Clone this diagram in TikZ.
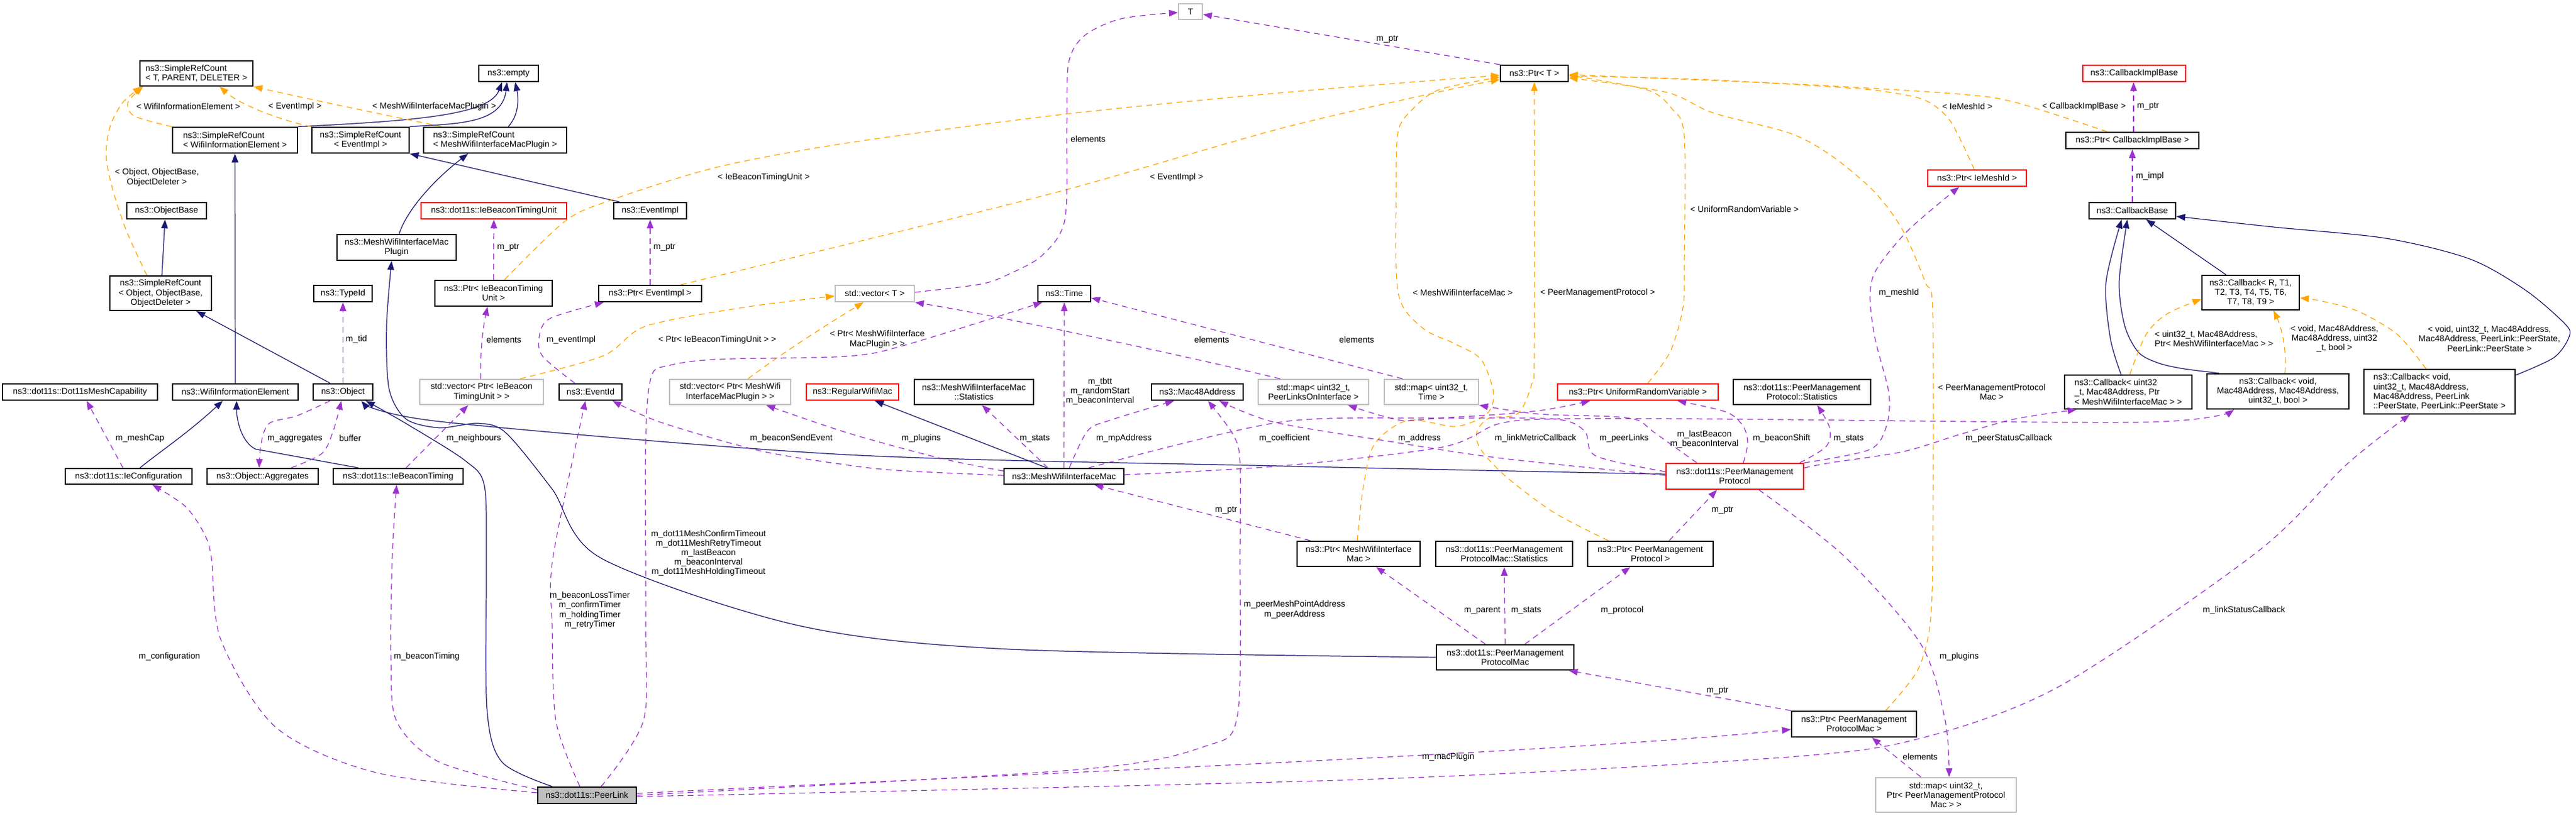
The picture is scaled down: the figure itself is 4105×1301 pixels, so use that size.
\documentclass[tikz,border=0pt]{standalone}
\usepackage{fontspec}
\setmainfont{Liberation Sans}
\usetikzlibrary{arrows.meta}
\definecolor{inhblue}{HTML}{191970}
\definecolor{usepurple}{HTML}{9A32CD}
\definecolor{tmplorange}{HTML}{FFA500}
\definecolor{truncred}{HTML}{FF0000}
\definecolor{undocgrey}{HTML}{BFBFBF}

\begin{document}
\begin{tikzpicture}[x=0.01cm,y=-0.01cm,>={Triangle[length=4pt,width=3pt]},
  cls/.style={draw=black,line width=0.6pt,fill=white,inner sep=0pt,align=center,font=\fontsize{3.9}{4.3}\selectfont},
  undoc/.style={cls,draw=undocgrey},
  trunc/.style={cls,draw=truncred},
  lbl/.style={inner sep=0pt,align=center,font=\fontsize{3.9}{4.3}\selectfont},
  inh/.style={->,draw=inhblue,line width=0.35pt},
  use/.style={->,draw=usepurple,line width=0.35pt,dash pattern=on 2.6pt off 2pt},
  tmpl/.style={->,draw=tmplorange,line width=0.35pt,dash pattern=on 2.6pt off 2pt}]
\useasboundingbox (0,0) rectangle (4105,1301);

% classes
\node[cls,align=left,minimum width=1.80cm,minimum height=0.40cm] (srcTPD) at (313,117) {ns3::SimpleRefCount\\< T, PARENT, DELETER >};
\node[cls,align=left,minimum width=1.99cm,minimum height=0.41cm] (srcWIE) at (374.5,223.5) {ns3::SimpleRefCount\\< WifiInformationElement >};
\node[cls,minimum width=1.55cm,minimum height=0.41cm] (srcEI) at (574.5,223.5) {ns3::SimpleRefCount\\< EventImpl >};
\node[cls,align=left,minimum width=2.28cm,minimum height=0.41cm] (srcMP) at (789,223.5) {ns3::SimpleRefCount\\< MeshWifiInterfaceMacPlugin >};
\node[cls,minimum width=0.95cm,minimum height=0.26cm] (empty) at (810.5,117) {ns3::empty};
\node[cls,minimum width=1.27cm,minimum height=0.26cm] (objBase) at (265.5,336) {ns3::ObjectBase};
\node[cls,minimum width=1.62cm,minimum height=0.55cm] (srcObj) at (256,467.5) {ns3::SimpleRefCount\\< Object, ObjectBase,\\ObjectDeleter >};
\node[cls,minimum width=0.93cm,minimum height=0.26cm] (typeId) at (546.5,468) {ns3::TypeId};
\node[cls,minimum width=2.47cm,minimum height=0.26cm] (meshCap) at (127.5,625) {ns3::dot11s::Dot11sMeshCapability};
\node[cls,minimum width=2.00cm,minimum height=0.26cm] (wie) at (375,625) {ns3::WifiInformationElement};
\node[cls,minimum width=0.95cm,minimum height=0.26cm] (object) at (546.5,625) {ns3::Object};
\node[cls,minimum width=2.02cm,minimum height=0.25cm] (ieConf) at (205,759.5) {ns3::dot11s::IeConfiguration};
\node[cls,minimum width=1.77cm,minimum height=0.25cm] (aggr) at (418.5,759.5) {ns3::Object::Aggregates};
\node[cls,minimum width=2.07cm,minimum height=0.25cm] (ieBT) at (634.5,759.5) {ns3::dot11s::IeBeaconTiming};
\node[cls,minimum width=1.90cm,minimum height=0.41cm] (mwimPlugin) at (632,394.5) {ns3::MeshWifiInterfaceMac\\Plugin};
\node[trunc,minimum width=2.32cm,minimum height=0.26cm] (btUnit) at (787,336) {ns3::dot11s::IeBeaconTimingUnit};
\node[cls,minimum width=1.16cm,minimum height=0.26cm] (eventImpl) at (1036,336) {ns3::EventImpl};
\node[cls,minimum width=1.87cm,minimum height=0.41cm] (ptrBTU) at (786.5,467.5) {ns3::Ptr< IeBeaconTiming\\Unit >};
\node[cls,minimum width=1.64cm,minimum height=0.26cm] (ptrEI) at (1036,468) {ns3::Ptr< EventImpl >};
\node[undoc,minimum width=1.97cm,minimum height=0.40cm] (vecBTU) at (767.5,625) {std::vector< Ptr< IeBeacon\\TimingUnit > >};
\node[cls,minimum width=1.00cm,minimum height=0.26cm] (eventId) at (941,625) {ns3::EventId};
\node[undoc,minimum width=1.93cm,minimum height=0.40cm] (vecMP) at (1163.5,625) {std::vector< Ptr< MeshWifi\\InterfaceMacPlugin > >};
\node[trunc,minimum width=1.47cm,minimum height=0.26cm] (regMac) at (1358.5,625) {ns3::RegularWifiMac};
\node[undoc,minimum width=1.26cm,minimum height=0.26cm] (vecT) at (1394,468) {std::vector< T >};
\node[undoc,minimum width=0.38cm,minimum height=0.25cm] (tT) at (1897,18.5) {T};
\node[cls,minimum width=0.84cm,minimum height=0.26cm] (time) at (1696,468) {ns3::Time};
\node[cls,minimum width=1.90cm,minimum height=0.40cm] (mwimStats) at (1552,625) {ns3::MeshWifiInterfaceMac\\::Statistics};
\node[cls,minimum width=1.46cm,minimum height=0.26cm] (mac48) at (1908,625) {ns3::Mac48Address};
\node[undoc,minimum width=1.76cm,minimum height=0.40cm] (mapPL) at (2093,625) {std::map< uint32\_t,\\PeerLinksOnInterface >};
\node[undoc,minimum width=1.50cm,minimum height=0.40cm] (mapTime) at (2281,625) {std::map< uint32\_t,\\Time >};
\node[trunc,minimum width=2.56cm,minimum height=0.26cm] (ptrURV) at (2610,625) {ns3::Ptr< UniformRandomVariable >};
\node[cls,minimum width=2.19cm,minimum height=0.40cm] (pmpStats) at (2871.5,625) {ns3::dot11s::PeerManagement\\Protocol::Statistics};
\node[cls,minimum width=1.91cm,minimum height=0.25cm] (mwim) at (1695.5,759.5) {ns3::MeshWifiInterfaceMac};
\node[trunc,minimum width=2.19cm,minimum height=0.41cm] (pmp) at (2764.5,759.5) {ns3::dot11s::PeerManagement\\Protocol};
\node[cls,minimum width=1.08cm,minimum height=0.26cm] (ptrT) at (2445,117) {ns3::Ptr< T >};
\node[trunc,minimum width=1.57cm,minimum height=0.26cm] (ptrMeshId) at (3150.5,284) {ns3::Ptr< IeMeshId >};
\node[trunc,minimum width=1.64cm,minimum height=0.26cm] (cbImplBase) at (3401,117) {ns3::CallbackImplBase};
\node[cls,minimum width=2.12cm,minimum height=0.26cm] (ptrCbImpl) at (3398,224) {ns3::Ptr< CallbackImplBase >};
\node[cls,minimum width=1.38cm,minimum height=0.26cm] (cbBase) at (3398,336) {ns3::CallbackBase};
\node[cls,minimum width=1.55cm,minimum height=0.55cm] (cbGeneric) at (3586.5,466.5) {ns3::Callback< R, T1,\\T2, T3, T4, T5, T6,\\T7, T8, T9 >};
\node[cls,align=left,minimum width=2.03cm,minimum height=0.54cm] (cbMetric) at (3391.5,625) {ns3::Callback< uint32\\\_t, Mac48Address, Ptr\\< MeshWifiInterfaceMac > >};
\node[cls,minimum width=2.26cm,minimum height=0.56cm] (cbPeer) at (3630,624) {ns3::Callback< void,\\Mac48Address, Mac48Address,\\uint32\_t, bool >};
\node[cls,align=left,minimum width=2.41cm,minimum height=0.71cm] (cbLink) at (3887.5,624.5) {ns3::Callback< void,\\uint32\_t, Mac48Address,\\Mac48Address, PeerLink\\::PeerState, PeerLink::PeerState >};
\node[cls,minimum width=1.96cm,minimum height=0.40cm] (ptrMwim) at (2165,883) {ns3::Ptr< MeshWifiInterface\\Mac >};
\node[cls,minimum width=2.18cm,minimum height=0.40cm] (pmpMacStats) at (2397,883) {ns3::dot11s::PeerManagement\\ProtocolMac::Statistics};
\node[cls,minimum width=2.00cm,minimum height=0.40cm] (ptrPmp) at (2630,883) {ns3::Ptr< PeerManagement\\Protocol >};
\node[cls,minimum width=2.19cm,minimum height=0.40cm] (pmpMac) at (2398.5,1048) {ns3::dot11s::PeerManagement\\ProtocolMac};
\node[cls,minimum width=1.99cm,minimum height=0.41cm] (ptrPmpMac) at (2954.5,1154.5) {ns3::Ptr< PeerManagement\\ProtocolMac >};
\node[undoc,minimum width=2.24cm,minimum height=0.55cm] (mapMac) at (3101,1267.5) {std::map< uint32\_t,\\Ptr< PeerManagementProtocol\\Mac > >};
\node[cls,fill=undocgrey,minimum width=1.57cm,minimum height=0.26cm] (peerLink) at (935.5,1268) {ns3::dot11s::PeerLink};

% inheritance
\draw[inh] (srcWIE.north east) .. controls (650,193) and (780,185) .. (800,0 |- empty.south);
\draw[inh] (srcEI.north east) .. controls (720,197) and (800,200) .. (808,0 |- empty.south);
\draw[inh] (810,0 |- srcMP.north) .. controls (830,180) and (825,150) .. (821,0 |- empty.south);
\draw[inh] (258,0 |- srcObj.north) -- (263,0 |- objBase.south);
\draw[inh] (wie.north) -- (srcWIE.south);
\draw[inh] (987,0 |- eventImpl.north) -- (srcEI.south east);
\draw[inh] (636,0 |- mwimPlugin.north) .. controls (650,330) and (700,280) .. (746,0 |- srcMP.south);
\draw[inh] (526,0 |- object.north) -- (313,0 |- srcObj.south);
\draw[inh] (223,0 |- ieConf.north) .. controls (255,720) and (300,690) .. (355,0 |- wie.south);
\draw[inh] (571,0 |- ieBT.north) -- (407,716) .. controls (385,705) and (377,670) .. (377,0 |- wie.south);
\draw[inh] plot[smooth] coordinates {(880,0 |- peerLink.north) (800,1215) (776,1130) (775,900) (772,775) (742,735) (650,677) (583,0 |- object.south)};
\draw[inh] plot[smooth] coordinates {(pmp.west |- 0,756) (2040,743) (1350,725) (700,672) (576,0 |- object.south)};
\draw[inh] plot[smooth] coordinates {(pmpMac.west) (1607,1035) (1271,997) (958,890) (880,780) (806,690) (762,675) (700,682) (647,668) (620,620) (616,520) (624,0 |- mwimPlugin.south)};
\draw[inh] (1668,0 |- mwim.north) -- (1394,0 |- regMac.south);
\draw[inh] (3547,0 |- cbGeneric.north) -- (3420,0 |- cbBase.south);
\draw[inh] plot[smooth] coordinates {(cbLink.east |- 0,598) (4070,570) (4094,537) (4088,517) (4025,463) (3936,413) (3802,380) (3623,362) (cbBase.east |- 0,345)};
\draw[inh] plot[smooth] coordinates {(3380,0 |- cbMetric.north) (3363,540) (3356,450) (3381,0 |- cbBase.south)};
\draw[inh] plot[smooth] coordinates {(3536,0 |- cbPeer.north) (3480,588) (3440,579) (3408,562) (3386,520) (3377,450) (3390,0 |- cbBase.south)};

% template instances
\draw[tmpl] plot[smooth] coordinates {(srcWIE.north west) (214,185) (204,163) (228,0 |- srcTPD.south)};
\draw[tmpl] (srcEI.north west) .. controls (440,190) and (380,165) .. (350,0 |- srcTPD.south);
\draw[tmpl] (704,0 |- srcMP.north) .. controls (680,197) and (500,160) .. (srcTPD.south east);
\draw[tmpl] plot[smooth] coordinates {(234,0 |- srcObj.north) (201,367) (179,300) (169,247) (176,200) (196,163) (226,0 |- srcTPD.south)};
\draw[tmpl] plot[smooth] coordinates {(804,0 |- ptrBTU.north) (900,353) (971,320) (1141,267) (1350,228) (1697,182) (2040,148) (ptrT.west |- 0,120)};
\draw[tmpl] plot[smooth] coordinates {(1085,0 |- ptrEI.north) (1340,392) (1697,303) (2040,205) (2300,145) (ptrT.west |- 0,127)};
\draw[tmpl] plot[smooth] coordinates {(829,0 |- vecBTU.north) (962,567) (1029,520) (1186,490) (vecT.west |- 0,472)};
\draw[tmpl] (1192,0 |- vecMP.north) .. controls (1250,560) and (1330,510) .. (1376,0 |- vecT.south);
\draw[tmpl] plot[smooth] coordinates {(2163,0 |- ptrMwim.north) (2173,773) (2191,707) (2244,670) (2320,680) (2369,660) (2380,627) (2360,573) (2316,547) (2267,523) (2228,467) (2225,300) (2228,210) (2250,175) (2293,143) (ptrT.west |- 0,123)};
\draw[tmpl] plot[smooth] coordinates {(2563,0 |- ptrPmp.north) (2476,817) (2400,760) (2360,717) (2353,690) (2372,667) (2418,660) (2440,615) (2445,560) (2445,0 |- ptrT.south)};
\draw[tmpl] plot[smooth] coordinates {(2626,0 |- ptrURV.north) (2662,560) (2682,490) (2684,420) (2684,217) (2664,173) (2624,143) (ptrT.east |- 0,120)};
\draw[tmpl] plot[smooth] coordinates {(3146,0 |- ptrMeshId.north) (3108,193) (3068,160) (3010,147) (2943,140) (2720,127) (ptrT.east |- 0,121)};
\draw[tmpl] plot[smooth] coordinates {(3358,0 |- ptrCbImpl.north) (3211,163) (3122,150) (2900,136) (2720,128) (ptrT.east |- 0,119)};
\draw[tmpl] plot[smooth] coordinates {(3005,0 |- ptrPmpMac.north) (3055,1070) (3075,1000) (3080,880) (3080,500) (3068,450) (3032,367) (2988,307) (2921,250) (2854,213) (2730,180) (2655,147) (ptrT.east |- 0,124)};
\draw[tmpl] plot[smooth] coordinates {(3394,0 |- cbMetric.north) (3420,533) (3454,500) (cbGeneric.west |- 0,477)};
\draw[tmpl] (3641,0 |- cbPeer.north) .. controls (3645,560) and (3635,520) .. (3623,0 |- cbGeneric.south);
\draw[tmpl] plot[smooth] coordinates {(3866,0 |- cbLink.north) (3820,533) (3757,496) (3700,480) (cbGeneric.east |- 0,475)};

% usage
\draw[use] (ptrBTU.north) -- (btUnit.south);
\draw[use] (ptrEI.north) -- (eventImpl.south);
\draw[use] (object.north) -- (typeId.south);
\draw[use] (196,0 |- ieConf.north) -- (138,0 |- meshCap.south);
\draw[use] plot[smooth] coordinates {(526,0 |- object.south) (473,663) (429,675) (416,707) (413,0 |- aggr.north)};
\draw[use] plot[smooth] coordinates {(464,0 |- aggr.north) (513,723) (531,687) (544,0 |- object.south)};
\draw[use] (647,0 |- ieBT.north) -- (746,0 |- vecBTU.south);
\draw[use] (766,0 |- vecBTU.north) .. controls (765,560) and (770,520) .. (777,0 |- ptrBTU.south);
\draw[use] plot[smooth] coordinates {(916,0 |- eventId.north) (864,567) (860,533) (878,507) (962,0 |- ptrEI.south)};
\draw[use] plot[smooth] coordinates {(vecT.east |- 0,466) (1563,453) (1608,437) (1661,407) (1697,350) (1700,200) (1703,100) (1728,57) (1786,30) (tT.west |- 0,20)};
\draw[use] (ptrT.north west) -- (tT.east |- 0,23);
\draw[use] plot[smooth] coordinates {(924,0 |- peerLink.north) (886,1150) (880,1000) (881,890) (933,0 |- eventId.south)};
\draw[use] plot[smooth] coordinates {(958,0 |- peerLink.north) (1025,1150) (1029,1000) (1029,700) (1038,600) (1065,583) (1141,573) (1350,568) (1443,550) (1661,0 |- time.south)};
\draw[use] plot[smooth] coordinates {(peerLink.west |- 0,1264) (600,1232) (440,1160) (352,1020) (337,890) (325,850) (295,807) (243,0 |- ieConf.south)};
\draw[use] plot[smooth] coordinates {(peerLink.west |- 0,1259) (700,1215) (632,1150) (623,1050) (625,890) (632,0 |- ieBT.south)};
\draw[use] (peerLink.east |- 0,1265) .. controls (1600,1235) and (2500,1200) .. (ptrPmpMac.west |- 0,1163);
\draw[use] plot[smooth] coordinates {(peerLink.east |- 0,1268) (1719,1227) (1920,1190) (1972,1140) (1976,883) (1976,737) (1965,693) (1925,0 |- mac48.south)};
\draw[use] plot[smooth] coordinates {(peerLink.east |- 0,1270) (2166,1243) (2837,1208) (3061,1177) (3284,1093) (3597,880) (3740,740) (3840,0 |- cbLink.south)};
\draw[use] plot[smooth] coordinates {(pmp.north east) (2979,717) (3006,680) (3010,627) (2988,540) (2980,473) (2990,430) (3041,367) (3122,0 |- ptrMeshId.south)};
\draw[use] plot[smooth] coordinates {(2868,0 |- pmp.north) (2910,712) (2916,683) (2896,0 |- pmpStats.south)};
\draw[use] plot[smooth] coordinates {(2778,0 |- pmp.north) (2785,707) (2778,680) (2751,657) (2673,0 |- ptrURV.south)};
\draw[use] plot[smooth] coordinates {(pmp.west |- 0,752) (2543,727) (2525,687) (2476,668) (2298,667) (2231,670) (2148,0 |- mapPL.south)};
\draw[use] plot[smooth] coordinates {(2704,0 |- pmp.north) (2637,690) (2610,670) (2566,664) (2450,660) (mapTime.south east)};
\draw[use] plot[smooth] coordinates {(pmp.west |- 0,758) (2387,730) (2209,703) (2030,673) (1943,0 |- mac48.south)};
\draw[use] plot[smooth] coordinates {(pmp.east |- 0,746) (2916,738) (3033,720) (3122,693) (3211,668) (3309,0 |- cbMetric.south)};
\draw[use] plot[smooth] coordinates {(2803,0 |- pmp.south) (2939,887) (3061,1027) (3100,1150) (3106,0 |- mapMac.north)};
\draw[use] (2088,0 |- ptrMwim.north) -- (1744,0 |- mwim.south);
\draw[use] (2367,0 |- pmpMac.north) -- (2193,0 |- ptrMwim.south);
\draw[use] (pmpMac.north) -- (pmpMacStats.south);
\draw[use] (2430,0 |- pmpMac.north) -- (2598,0 |- ptrPmp.south);
\draw[use] (2660,0 |- ptrPmp.north) -- (2736,0 |- pmp.south);
\draw[use] (ptrPmpMac.north west) -- (2500,0 |- pmpMac.south);
\draw[use] (3061,0 |- mapMac.north) -- (2983,0 |- ptrPmpMac.south);
\draw[use] plot[smooth] coordinates {(mwim.west |- 0,751) (1496,730) (1350,690) (1221,0 |- vecMP.south)};
\draw[use] plot[smooth] coordinates {(mwim.west |- 0,758) (1429,750) (1340,740) (1208,718) (1052,673) (976,0 |- eventId.south)};
\draw[use] (1670,0 |- mwim.north) -- (1565,0 |- mwimStats.south);
\draw[use] (mwim.north) -- (time.south);
\draw[use] plot[smooth] coordinates {(1704,0 |- mwim.north) (1733,687) (1769,670) (1871,0 |- mac48.south)};
\draw[use] plot[smooth] coordinates {(1735,0 |- mwim.north) (2040,673) (2300,666) (2450,655) (2534,0 |- ptrURV.south)};
\draw[use] plot[smooth] coordinates {(mwim.east |- 0,757) (2040,743) (2298,713) (2387,676) (2476,668) (2730,668) (3420,673) (3560,0 |- cbPeer.south)};
\draw[use] (2040,0 |- mapPL.north) .. controls (1900,570) and (1600,505) .. (vecT.south east);
\draw[use] (2235,0 |- mapTime.north) -- (time.east |- 0,475);
\draw[use] (3400,0 |- ptrCbImpl.north) -- (3400,0 |- cbImplBase.south);
\draw[use] (cbBase.north) -- (ptrCbImpl.south);

% labels
\node[lbl] (lWie) at (300,170) {< WifiInformationElement >};
\node[lbl] (lEi) at (470,170) {< EventImpl >};
\node[lbl] (lMp) at (692,170) {< MeshWifiInterfaceMacPlugin >};
\node[lbl] (lObj) at (250,283) {< Object, ObjectBase,\\ObjectDeleter >};
\node[lbl] (lPtrBtu) at (810,394) {m\_ptr};
\node[lbl] (lPtrEi) at (1059,394) {m\_ptr};
\node[lbl] (lBtu) at (1217,283) {< IeBeaconTimingUnit >};
\node[lbl] (lEi2) at (1875,283) {< EventImpl >};
\node[lbl] (lElemT) at (1734,222) {elements};
\node[lbl] (lPtrT) at (2211,63) {m\_ptr};
\node[lbl] (lUrv) at (2780,334) {< UniformRandomVariable >};
\node[lbl] (lMeshIdT) at (3135,170) {< IeMeshId >};
\node[lbl] (lCbImplT) at (3321,170) {< CallbackImplBase >};
\node[lbl] (lPtrCb) at (3423,170) {m\_ptr};
\node[lbl] (lImpl) at (3426,281) {m\_impl};
\node[lbl] (lTid) at (568,541) {m\_tid};
\node[lbl] (lMeshCap) at (223,699) {m\_meshCap};
\node[lbl] (lAggr) at (470,699) {m\_aggregates};
\node[lbl] (lBuffer) at (558,699) {buffer};
\node[lbl] (lElemBtu) at (803,542) {elements};
\node[lbl] (lEventImpl) at (910,542) {m\_eventImpl};
\node[lbl] (lVecBtu) at (1143,542) {< Ptr< IeBeaconTimingUnit > >};
\node[lbl] (lVecMp) at (1398,541) {< Ptr< MeshWifiInterface\\MacPlugin > >};
\node[lbl] (lNeigh) at (755,699) {m\_neighbours};
\node[lbl] (lSend) at (1261,699) {m\_beaconSendEvent};
\node[lbl] (lTimeouts) at (1129,882) {m\_dot11MeshConfirmTimeout\\m\_dot11MeshRetryTimeout\\m\_lastBeacon\\m\_beaconInterval\\m\_dot11MeshHoldingTimeout};
\node[lbl] (lTbtt) at (1753,624) {m\_tbtt\\m\_randomStart\\m\_beaconInterval};
\node[lbl] (lPlugins) at (1468,699) {m\_plugins};
\node[lbl] (lMwimStats) at (1649,699) {m\_stats};
\node[lbl] (lMpAddr) at (1791,699) {m\_mpAddress};
\node[lbl] (lElemPL) at (1931,542) {elements};
\node[lbl] (lCoef) at (2047,699) {m\_coefficient};
\node[lbl] (lPtrMwim) at (1954,813) {m\_ptr};
\node[lbl] (lMwimT) at (2331,467) {< MeshWifiInterfaceMac >};
\node[lbl] (lPmpT) at (2546,467) {< PeerManagementProtocol >};
\node[lbl] (lElemTime) at (2162,542) {elements};
\node[lbl] (lAddr) at (2262,699) {m\_address};
\node[lbl] (lMetric) at (2447,699) {m\_linkMetricCallback};
\node[lbl] (lPeerLinks) at (2588,699) {m\_peerLinks};
\node[lbl] (lLastBeacon) at (2716,700) {m\_lastBeacon\\m\_beaconInterval};
\node[lbl] (lMeshId) at (3026,467) {m\_meshId};
\node[lbl] (lShift) at (2839,699) {m\_beaconShift};
\node[lbl] (lPmpStats) at (2946,699) {m\_stats};
\node[lbl] (lPmpMacT) at (3174,625) {< PeerManagementProtocol\\Mac >};
\node[lbl] (lPeerStatus) at (3201,699) {m\_peerStatusCallback};
\node[lbl] (lPtrPmp) at (2745,813) {m\_ptr};
\node[lbl,align=left,anchor=west] (lCbMetric) at (3433,540) {< uint32\_t, Mac48Address,\\Ptr< MeshWifiInterfaceMac > >};
\node[lbl] (lCbPeer) at (3720,540) {< void, Mac48Address,\\Mac48Address, uint32\\\_t, bool >};
\node[lbl] (lCbLink) at (3967,540) {< void, uint32\_t, Mac48Address,\\Mac48Address, PeerLink::PeerState,\\PeerLink::PeerState >};
\node[lbl] (lParent) at (2362,973) {m\_parent};
\node[lbl] (lMacStats) at (2432,973) {m\_stats};
\node[lbl] (lProtocol) at (2585,973) {m\_protocol};
\node[lbl] (lPtrPmpMac) at (2737,1101) {m\_ptr};
\node[lbl] (lPmpPlugins) at (3122,1047) {m\_plugins};
\node[lbl] (lLinkStatus) at (3576,973) {m\_linkStatusCallback};
\node[lbl] (lElemMac) at (3060,1207) {elements};
\node[lbl] (lMacPlugin) at (2308,1207) {m\_macPlugin};
\node[lbl] (lPeerAddr) at (2063,972) {m\_peerMeshPointAddress\\m\_peerAddress};
\node[lbl] (lTimers) at (940,973) {m\_beaconLossTimer\\m\_confirmTimer\\m\_holdingTimer\\m\_retryTimer};
\node[lbl] (lBeaconTiming) at (680,1047) {m\_beaconTiming};
\node[lbl] (lConf) at (270,1047) {m\_configuration};
\end{tikzpicture}
\end{document}
